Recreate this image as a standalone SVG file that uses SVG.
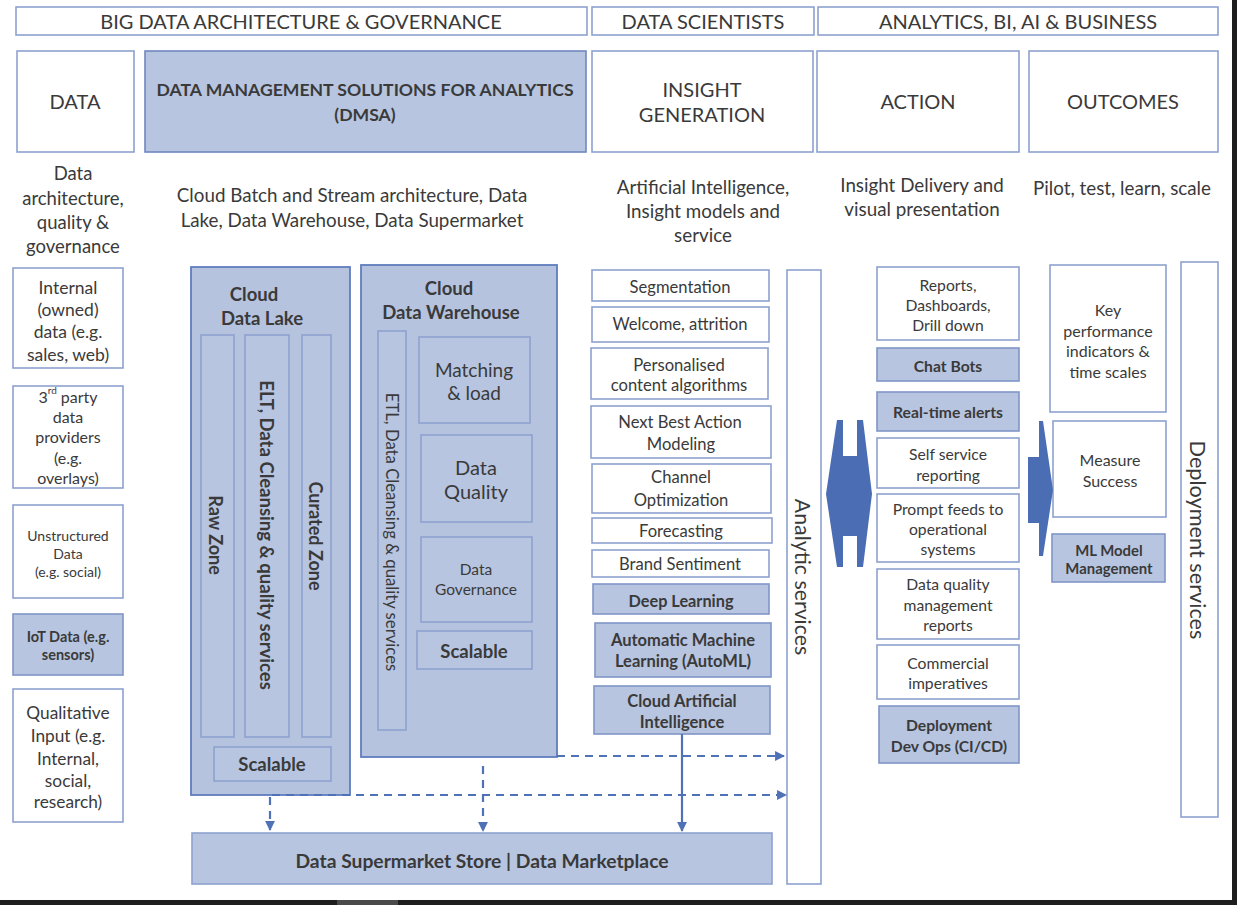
<svg xmlns="http://www.w3.org/2000/svg" width="1237" height="905" viewBox="0 0 1237 905">
<defs>
<style>
.w{fill:#fff;stroke:#8ea2cf;stroke-width:1.6}
.f{fill:#b7c5e0;stroke:#7f95c7;stroke-width:1.6}
.fd{fill:#b5c3df;stroke:#5f7dbd;stroke-width:1.8}
.t{font-family:Lato,"Open Sans",sans-serif;fill:#3a3a3a;text-anchor:middle;dominant-baseline:central}
.b{font-weight:bold}
.c{stroke:#4f71b5;stroke-width:2.2;fill:none}
.d{stroke-dasharray:8 6}
.ar{fill:#4a6db3}
</style>
<marker id="ah" viewBox="0 0 10 10" refX="9" refY="5" markerWidth="4.5" markerHeight="4.5" orient="auto" markerUnits="strokeWidth">
<path d="M0,0 L10,5 L0,10 Z" fill="#4f71b5"/>
</marker>
</defs>
<rect width="1237" height="905" fill="#fff"/>

<!-- header row 1 -->
<g id="hdr-bigdata"><rect class="w" x="16" y="7" width="571" height="28"/><text class="t" x="301" y="21" font-size="20">BIG DATA ARCHITECTURE &amp; GOVERNANCE</text></g>
<g id="hdr-scientists"><rect class="w" x="592" y="7" width="222" height="28"/><text class="t" x="703" y="21" font-size="20">DATA SCIENTISTS</text></g>
<g id="hdr-analytics"><rect class="w" x="818" y="7" width="400" height="28"/><text class="t" x="1018" y="21" font-size="20">ANALYTICS, BI, AI &amp; BUSINESS</text></g>

<!-- header row 2 -->
<g id="hdr-data"><rect class="w" x="17" y="51" width="117" height="101"/><text class="t" x="75" y="101" font-size="20">DATA</text></g>
<g id="hdr-dmsa"><rect class="f" x="145" y="51" width="441" height="101" style="stroke:#6f87bf"/><text class="t b" x="365" y="89" font-size="17.6">DATA MANAGEMENT SOLUTIONS FOR ANALYTICS</text><text class="t b" x="365" y="114" font-size="17.6">(DMSA)</text></g>
<g id="hdr-insight"><rect class="w" x="592" y="51" width="221" height="101"/><text class="t" x="702" y="89" font-size="20">INSIGHT</text><text class="t" x="702" y="114" font-size="20">GENERATION</text></g>
<g id="hdr-action"><rect class="w" x="817" y="51" width="202" height="101"/><text class="t" x="918" y="101" font-size="20">ACTION</text></g>
<g id="hdr-outcomes"><rect class="w" x="1029" y="51" width="189" height="101"/><text class="t" x="1123" y="101" font-size="20">OUTCOMES</text></g>

<!-- subtitles -->
<g id="sub-data"><text class="t" x="73" y="173" font-size="18.5">Data</text><text class="t" x="73" y="198" font-size="18.5">architecture,</text><text class="t" x="73" y="222" font-size="18.5">quality &amp;</text><text class="t" x="73" y="246" font-size="18.5">governance</text></g>
<g id="sub-dmsa"><text class="t" x="352" y="194" font-size="18.8">Cloud Batch and Stream architecture, Data</text><text class="t" x="352" y="219" font-size="18.8">Lake, Data Warehouse, Data Supermarket</text></g>
<g id="sub-insight"><text class="t" x="703" y="186" font-size="18.8">Artificial Intelligence,</text><text class="t" x="703" y="210" font-size="18.8">Insight models and</text><text class="t" x="703" y="234" font-size="18.8">service</text></g>
<g id="sub-action"><text class="t" x="922" y="184" font-size="18.8">Insight Delivery and</text><text class="t" x="922" y="208" font-size="18.8">visual presentation</text></g>
<g id="sub-outcomes"><text class="t" x="1122" y="187" font-size="18.8">Pilot, test, learn, scale</text></g>

<!-- data sources -->
<g id="src-internal"><rect class="w" x="13" y="268" width="110" height="100"/><text class="t" x="68" y="287" font-size="17.5">Internal</text><text class="t" x="68" y="309" font-size="17.5">(owned)</text><text class="t" x="68" y="331" font-size="17.5">data (e.g.</text><text class="t" x="68" y="354" font-size="17.5">sales, web)</text></g>
<g id="src-3rdparty"><rect class="w" x="13" y="386" width="110" height="102"/><text class="t" x="68" y="396" font-size="16">3<tspan font-size="10" baseline-shift="super">rd</tspan> party</text><text class="t" x="68" y="416" font-size="16">data</text><text class="t" x="68" y="436" font-size="16">providers</text><text class="t" x="68" y="457" font-size="16">(e.g.</text><text class="t" x="68" y="477" font-size="16">overlays)</text></g>
<g id="src-unstructured"><rect class="w" x="13" y="505" width="110" height="93"/><text class="t" x="68" y="535" font-size="14">Unstructured</text><text class="t" x="68" y="553" font-size="14">Data</text><text class="t" x="68" y="571" font-size="14">(e.g. social)</text></g>
<g id="src-iot"><rect class="f" x="13" y="614" width="110" height="61"/><text class="t b" x="68" y="636" font-size="14.5">IoT Data (e.g.</text><text class="t b" x="68" y="654" font-size="14.5">sensors)</text></g>
<g id="src-qualitative"><rect class="w" x="13" y="689" width="110" height="133"/><text class="t" x="68" y="712" font-size="17.3">Qualitative</text><text class="t" x="68" y="735" font-size="17.3">Input (e.g.</text><text class="t" x="68" y="758" font-size="17.3">Internal,</text><text class="t" x="68" y="780" font-size="17.3">social,</text><text class="t" x="68" y="801" font-size="17.3">research)</text></g>

<!-- Cloud data lake -->
<g id="data-lake">
<rect class="fd" x="191" y="267" width="159" height="528"/>
<text class="t b" x="254" y="294" font-size="18.5">Cloud</text><text class="t b" x="262" y="318" font-size="18.5">Data Lake</text>
<rect class="f" x="201" y="335" width="33" height="402" style="stroke:#8ea2cf"/>
<text class="t b" transform="translate(216,535) rotate(90)" font-size="18">Raw Zone</text>
<rect class="f" x="245" y="335" width="44" height="402" style="stroke:#8ea2cf"/>
<text class="t b" transform="translate(267,535) rotate(90)" font-size="18.5">ELT, Data Cleansing &amp; quality services</text>
<rect class="f" x="302" y="335" width="29" height="402" style="stroke:#8ea2cf"/>
<text class="t b" transform="translate(316,536) rotate(90)" font-size="18">Curated Zone</text>
<rect class="f" x="214" y="747" width="117" height="34" style="stroke:#8ea2cf"/>
<text class="t b" x="272" y="764" font-size="18.5">Scalable</text>
</g>

<!-- Cloud data warehouse -->
<g id="data-warehouse">
<rect class="fd" x="361" y="265" width="196" height="492"/>
<text class="t b" x="449" y="288" font-size="18.5">Cloud</text><text class="t b" x="451" y="312" font-size="18.5">Data Warehouse</text>
<rect class="f" x="378" y="331" width="28" height="399" style="stroke:#8ea2cf"/>
<text class="t" transform="translate(392,532) rotate(90)" font-size="16.7">ETL, Data Cleansing &amp; quality services</text>
<rect class="f" x="419" y="337" width="111" height="86" style="stroke:#8ea2cf"/>
<text class="t" x="474" y="369" font-size="19">Matching</text><text class="t" x="474" y="392" font-size="19">&amp; load</text>
<rect class="f" x="421" y="435" width="111" height="87" style="stroke:#8ea2cf"/>
<text class="t" x="476" y="467" font-size="20">Data</text><text class="t" x="476" y="491" font-size="20">Quality</text>
<rect class="f" x="421" y="537" width="111" height="85" style="stroke:#8ea2cf"/>
<text class="t" x="476" y="569" font-size="15.5">Data</text><text class="t" x="476" y="589" font-size="15.5">Governance</text>
<rect class="f" x="417" y="631" width="115" height="38" style="stroke:#8ea2cf"/>
<text class="t b" x="474" y="651" font-size="18.5">Scalable</text>
</g>

<!-- insight models -->
<g id="m-segmentation"><rect class="w" x="592" y="270" width="177" height="31"/><text class="t" x="680" y="287" font-size="16.6">Segmentation</text></g>
<g id="m-welcome"><rect class="w" x="592" y="307" width="177" height="35"/><text class="t" x="680" y="324" font-size="16.6">Welcome, attrition</text></g>
<g id="m-personalised"><rect class="w" x="591" y="348" width="177" height="51"/><text class="t" x="679" y="365" font-size="16.6">Personalised</text><text class="t" x="679" y="385" font-size="16.6">content algorithms</text></g>
<g id="m-nba"><rect class="w" x="591" y="406" width="180" height="52"/><text class="t" x="680" y="422" font-size="16.6">Next Best Action</text><text class="t" x="681" y="444" font-size="16.6">Modeling</text></g>
<g id="m-channel"><rect class="w" x="592" y="464" width="179" height="49"/><text class="t" x="681" y="477" font-size="16.6">Channel</text><text class="t" x="681" y="500" font-size="16.6">Optimization</text></g>
<g id="m-forecasting"><rect class="w" x="592" y="518" width="180" height="25"/><text class="t" x="681" y="531" font-size="16.6">Forecasting</text></g>
<g id="m-brand"><rect class="w" x="592" y="550" width="177" height="27"/><text class="t" x="680" y="564" font-size="16.6">Brand Sentiment</text></g>
<g id="m-deep"><rect class="f" x="593" y="584" width="176" height="30"/><text class="t b" x="681" y="600" font-size="16.3">Deep Learning</text></g>
<g id="m-automl"><rect class="f" x="595" y="623" width="176" height="54"/><text class="t b" x="683" y="640" font-size="16.5">Automatic Machine</text><text class="t b" x="683" y="661" font-size="16.5">Learning (AutoML)</text></g>
<g id="m-cloudai"><rect class="f" x="594" y="686" width="176" height="48"/><text class="t b" x="682" y="701" font-size="16.5">Cloud Artificial</text><text class="t b" x="682" y="722" font-size="16.5">Intelligence</text></g>

<!-- analytic services -->
<g id="analytic-services"><rect class="w" x="787" y="270" width="34" height="614"/><text class="t" transform="translate(803,577) rotate(90)" font-size="21.3">Analytic services</text></g>

<!-- action column -->
<g id="a-reports"><rect class="w" x="877" y="267" width="142" height="73"/><text class="t" x="948" y="285" font-size="15.7">Reports,</text><text class="t" x="948" y="305" font-size="15.7">Dashboards,</text><text class="t" x="948" y="325" font-size="15.7">Drill down</text></g>
<g id="a-chatbots"><rect class="f" x="877" y="348" width="142" height="33"/><text class="t b" x="948" y="366" font-size="15.7">Chat Bots</text></g>
<g id="a-alerts"><rect class="f" x="877" y="392" width="142" height="39"/><text class="t b" x="948" y="412" font-size="15.7">Real-time alerts</text></g>
<g id="a-selfservice"><rect class="w" x="877" y="438" width="142" height="50"/><text class="t" x="948" y="454" font-size="15.7">Self service</text><text class="t" x="948" y="475" font-size="15.7">reporting</text></g>
<g id="a-prompt"><rect class="w" x="877" y="494" width="142" height="68"/><text class="t" x="948" y="509" font-size="15.7">Prompt feeds to</text><text class="t" x="948" y="529" font-size="15.7">operational</text><text class="t" x="948" y="549" font-size="15.7">systems</text></g>
<g id="a-dq"><rect class="w" x="877" y="569" width="142" height="70"/><text class="t" x="948" y="584" font-size="15.7">Data quality</text><text class="t" x="948" y="605" font-size="15.7">management</text><text class="t" x="948" y="625" font-size="15.7">reports</text></g>
<g id="a-commercial"><rect class="w" x="877" y="645" width="142" height="54"/><text class="t" x="948" y="663" font-size="15.7">Commercial</text><text class="t" x="948" y="683" font-size="15.7">imperatives</text></g>
<g id="a-devops"><rect class="f" x="879" y="706" width="140" height="57"/><text class="t b" x="949" y="725" font-size="15.7">Deployment</text><text class="t b" x="949" y="746" font-size="15.7">Dev Ops (CI/CD)</text></g>

<!-- outcomes column -->
<g id="o-kpi"><rect class="w" x="1050" y="265" width="116" height="147"/><text class="t" x="1108" y="309" font-size="16">Key</text><text class="t" x="1108" y="330" font-size="16">performance</text><text class="t" x="1108" y="350" font-size="16">indicators &amp;</text><text class="t" x="1108" y="371" font-size="16">time scales</text></g>
<g id="o-measure"><rect class="w" x="1053" y="421" width="113" height="96"/><text class="t" x="1110" y="459" font-size="16">Measure</text><text class="t" x="1110" y="480" font-size="16">Success</text></g>
<g id="o-mlmodel"><rect class="f" x="1052" y="534" width="113" height="48"/><text class="t b" x="1109" y="550" font-size="14.9">ML Model</text><text class="t b" x="1109" y="568" font-size="14.9">Management</text></g>

<!-- deployment services -->
<g id="deployment-services"><rect class="w" x="1181" y="262" width="37" height="555"/><text class="t" transform="translate(1198,540) rotate(90)" font-size="21.7">Deployment services</text></g>

<!-- data supermarket -->
<g id="supermarket"><rect class="f" x="192" y="833" width="580" height="51" style="stroke:#8ea2cf"/><text class="t b" x="482" y="860" font-size="19.3">Data Supermarket Store | Data Marketplace</text></g>

<!-- big arrows -->
<g id="arrow-double"><polygon class="ar" points="837,420 843,420 843,456 857,456 857,420 863,420 872,494 863,567 857,567 857,536 843,536 843,567 837,567 826,494"/></g>
<g id="arrow-right"><polygon class="ar" points="1028,457 1039,457 1039,421 1043,421 1053,490 1043,556 1039,556 1039,523 1028,523"/></g>

<!-- connectors -->
<g id="connectors">
<path class="c d" d="M557,756 H784" marker-end="url(#ah)"/>
<path class="c d" d="M272,795 H786" marker-end="url(#ah)"/>
<path class="c d" d="M270,797 V830" marker-end="url(#ah)"/>
<path class="c d" d="M483,766 V831" marker-end="url(#ah)"/>
<path class="c" d="M682,734 V831" marker-end="url(#ah)"/>
</g>

<!-- frame edges -->
<rect x="0" y="900" width="1237" height="5" fill="#1e1e1e"/>
<rect x="337" y="900" width="61" height="5" fill="#4a4a4a"/>
<rect x="1232" y="0" width="5" height="905" fill="#1e1e1e"/>
</svg>
